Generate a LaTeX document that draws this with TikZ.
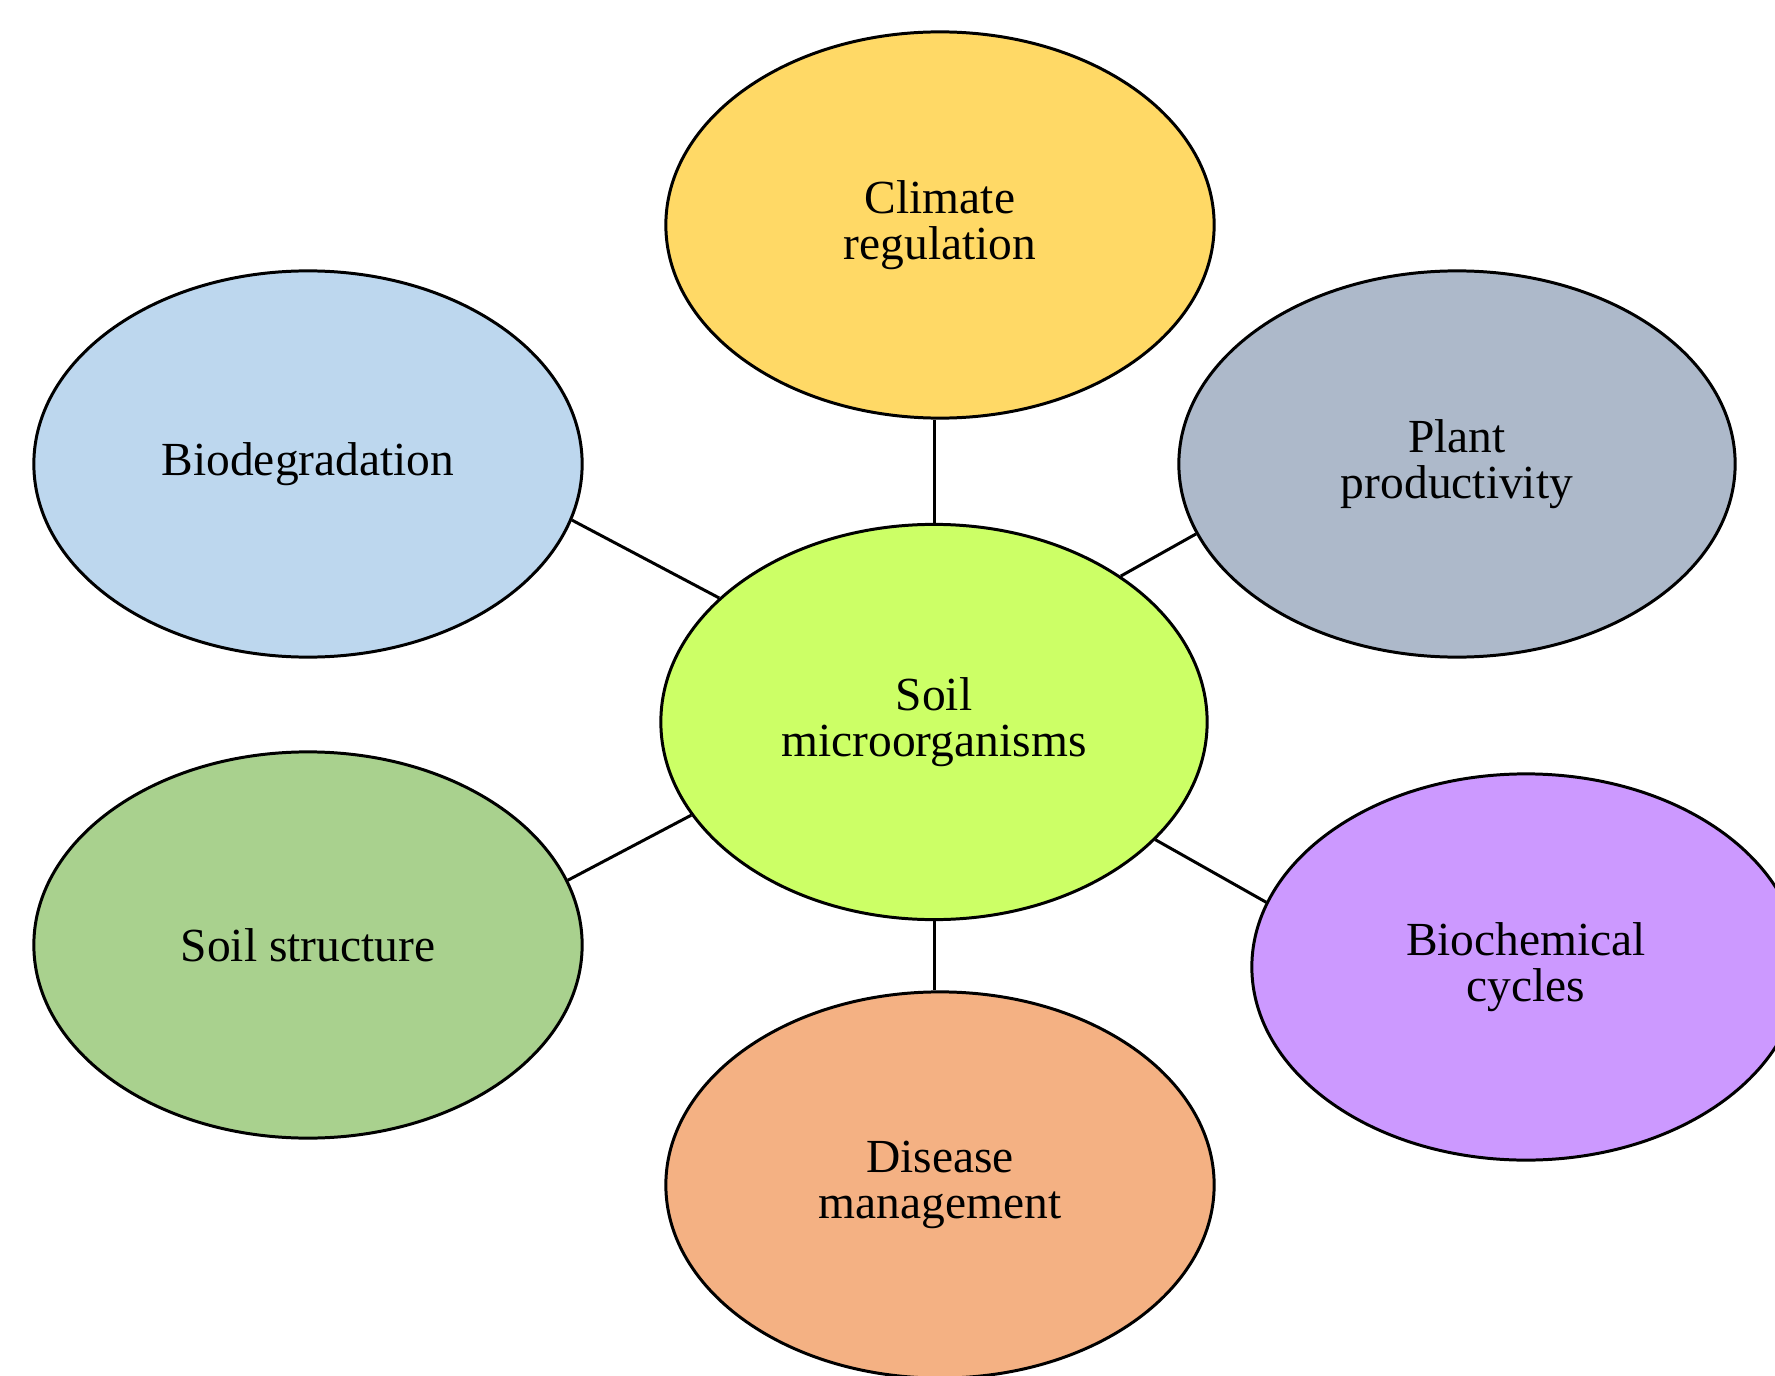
\documentclass[tikz,border=0pt]{standalone}
\usepackage{fontspec}
\setmainfont{Liberation Serif}
\usepackage{xcolor}
\usetikzlibrary{shapes.geometric}

\definecolor{climcol}{HTML}{FFD966}
\definecolor{biodcol}{HTML}{BDD7EE}
\definecolor{plantcol}{HTML}{ADB9CA}
\definecolor{soilcol}{HTML}{CCFF66}
\definecolor{structcol}{HTML}{A9D18E}
\definecolor{cyclecol}{HTML}{CC99FF}
\definecolor{diseasecol}{HTML}{F4B183}

\begin{document}
\begin{tikzpicture}[
  x = 0.01cm, y = -0.01cm,
  blob/.style = {ellipse, draw, line width=0.85pt, inner sep=0pt, align=center,
                 minimum width=5.48cm, minimum height=3.86cm,
                 font=\fontsize{13.5}{13}\selectfont},
  link/.style = {line width=0.85pt}
]
\path[use as bounding box, clip] (0,0) rectangle (1775,1376);

% ───────── centre ─────────
\node[blob, fill=soilcol, minimum width=5.46cm, minimum height=3.95cm]
      (soil) at (934,722) {Soil\\microorganisms};

% ───────── top / bottom ─────────
\node[blob, fill=climcol]    (clim)    at (940,225)  {Climate\\regulation};
\node[blob, fill=diseasecol] (disease) at (940,1185) {Disease\\management};

% ───────── left side ─────────
\node[blob, fill=biodcol]    (biod)    at (308,464)  {Biodegradation};
\node[blob, fill=structcol]  (struct)  at (308,945)  {Soil structure};

% ───────── right side ─────────
\node[blob, fill=plantcol, minimum width=5.56cm] (plant) at (1457,464) {Plant\\productivity};
\node[blob, fill=cyclecol]   (cycle)   at (1526,967) {Biochemical\\cycles};

% ───────── links ──────────
\draw[link] (soil.north) -- (soil.north |- clim.south);
\draw[link] (soil.south) -- (soil.south |- disease.north);
\draw[link] (soil.150)   -- (biod.-12);
\draw[link] (soil.38)    -- (plant.-165);
\draw[link] (soil.-159)  -- (struct.14);
\draw[link] (soil.-28)   -- (cycle.166);

\end{tikzpicture}
\end{document}
